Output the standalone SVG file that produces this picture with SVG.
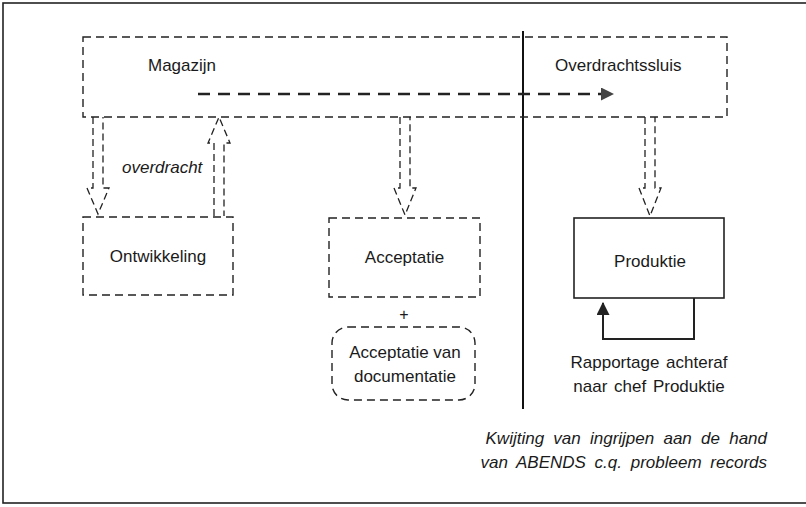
<svg xmlns="http://www.w3.org/2000/svg" width="806" height="507" viewBox="0 0 806 507">
  <defs>
    <style>
      .frame { fill: none; stroke: #222; stroke-width: 1.6; }
      .dbox { fill: none; stroke: #222; stroke-width: 1.4; stroke-dasharray: 8 5; }
      .sbox { fill: none; stroke: #222; stroke-width: 1.6; }
      .hollow { fill: none; stroke: #222; stroke-width: 1.3; stroke-dasharray: 7 4; stroke-linejoin: miter; }
      .flow { fill: none; stroke: #222; stroke-width: 2.6; stroke-dasharray: 12 8; }
      .solid { fill: none; stroke: #222; stroke-width: 2; }
      .lbl { font-family: "Liberation Sans", Arial, sans-serif; font-size: 17px; fill: #1a1a1a; }
      .it { font-style: italic; }
      .mid { text-anchor: middle; }
      .end { text-anchor: end; }
    </style>
    <marker id="tri" viewBox="0 0 13 13" refX="12" refY="6.5" markerWidth="13" markerHeight="13" markerUnits="userSpaceOnUse" orient="auto">
      <path d="M0,0 L13,6.5 L0,13 z" fill="#444"/>
    </marker>
    <marker id="solidHead" viewBox="0 0 12 12" refX="6" refY="1" markerWidth="13" markerHeight="13" markerUnits="userSpaceOnUse" orient="0">
      <path d="M6,0 L12,12 L0,12 z" fill="#222"/>
    </marker>
  </defs>

  <!-- outer frame (open to the right) -->
  <rect class="frame" x="3" y="3" width="820" height="500"/>

  <!-- divider -->
  <line x1="523" y1="31" x2="523" y2="409" stroke="#111" stroke-width="2"/>

  <g id="magazijn">
    <rect class="dbox" x="83" y="37" width="644" height="80"/>
    <text class="lbl" x="148" y="71">Magazijn</text>
    <text class="lbl" x="555" y="71">Overdrachtssluis</text>
  </g>

  <g id="ontwikkeling">
    <rect class="dbox" x="83" y="217" width="150" height="78"/>
    <text class="lbl mid" x="158" y="262">Ontwikkeling</text>
  </g>

  <g id="acceptatie">
    <rect class="dbox" x="329" y="218" width="151" height="79"/>
    <text class="lbl mid" x="404.5" y="263">Acceptatie</text>
  </g>

  <g id="documentatie">
    <text class="lbl mid" x="404" y="320" style="font-size:16px">+</text>
    <rect class="dbox" x="332" y="327" width="143" height="73" rx="16" ry="16"/>
    <text class="lbl mid" x="405" y="358">Acceptatie van</text>
    <text class="lbl mid" x="405" y="382">documentatie</text>
  </g>

  <g id="produktie">
    <rect class="sbox" x="574" y="218" width="150" height="80"/>
    <text class="lbl mid" x="650" y="267">Produktie</text>
  </g>

  <g id="connectors">
    <!-- flow through the transfer lock -->
    <line class="flow" x1="198" y1="94" x2="613" y2="94" marker-end="url(#tri)"/>
    <!-- hollow block arrows -->
    <path class="hollow" d="M93,117 V188 H87 L98,214 L109,188 H103 V117"/>
    <path class="hollow" d="M214,216 V143 H208 L219,117 L230,143 H224 V216"/>
    <path class="hollow" d="M400,117 V188 H394 L405,215 L416,188 H410 V117"/>
    <path class="hollow" d="M645,117 V188 H639 L650,216 L661,188 H655 V117"/>
    <!-- feedback loop -->
    <path class="solid" d="M694,298 V339 H603 V303" marker-end="url(#solidHead)"/>
    <text class="lbl it" x="122" y="173">overdracht</text>
  </g>

  <g id="notes">
    <text class="lbl mid" x="649" y="368" word-spacing="2">Rapportage achteraf</text>
    <text class="lbl mid" x="649" y="392" word-spacing="2">naar chef Produktie</text>
    <text class="lbl it end" x="767" y="444" word-spacing="4.5">Kwijting van ingrijpen aan de hand</text>
    <text class="lbl it end" x="767" y="468" word-spacing="4">van ABENDS c.q. probleem records</text>
  </g>
</svg>
